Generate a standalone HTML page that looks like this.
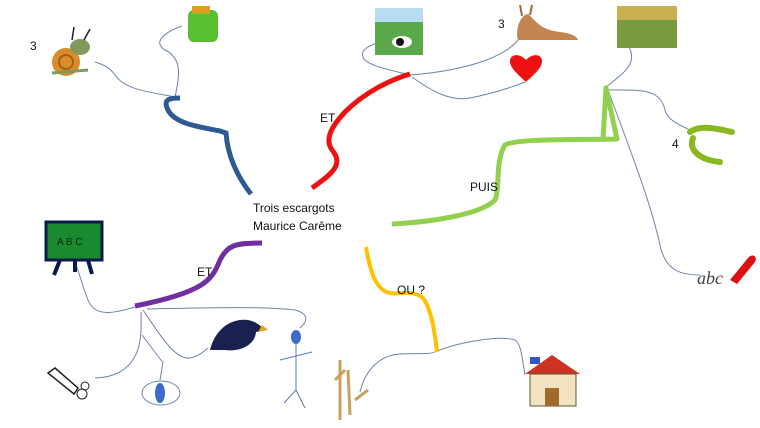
<!DOCTYPE html>
<html><head><meta charset="utf-8"><style>
html,body{margin:0;padding:0;background:#fff;}
svg{display:block;}
text{font-family:"Liberation Sans",sans-serif;font-size:12px;fill:#111;}
</style></head><body>
<svg width="760" height="428" viewBox="0 0 760 428" xmlns="http://www.w3.org/2000/svg">
<g fill="none" stroke="#6f84a8" stroke-width="1">
<!-- thin connectors top-left -->
<path d="M175 97 C150 92 125 90 115 75 C108 65 100 64 95 62"/>
<path d="M175 97 C180 75 182 58 165 50 C152 42 165 32 182 26"/>
<!-- around red top -->
<path d="M410 75 C390 70 365 65 363 57 C360 50 370 45 378 43"/>
<path d="M410 75 C450 72 500 62 518 40"/>
<path d="M412 77 C430 90 450 102 470 98 C490 94 510 88 525 82"/>
<!-- green top -->
<path d="M605 88 C620 75 640 65 628 45"/>
<path d="M608 90 C640 90 660 88 665 110 C667 120 680 125 690 130"/>
<path d="M608 90 C630 150 650 200 660 245 C665 270 680 275 700 275"/>
<!-- purple bottom -->
<path d="M135 307 C115 313 95 318 88 300 C82 285 80 275 75 262"/>
<path d="M147 309 C200 308 260 306 295 310 C310 314 307 322 300 328"/>
<path d="M143 310 C160 335 175 360 190 358 C200 356 205 350 208 348"/>
<path d="M141 312 C142 340 140 360 120 372 C110 377 100 378 95 378"/>
<path d="M142 335 C150 345 160 360 163 362 L160 380"/>
<!-- yellow bottom -->
<path d="M360 392 C365 370 380 355 400 354 C420 353 430 355 437 351 C460 342 500 335 515 340 C522 345 522 360 525 375"/>
</g>
<!-- main branches -->
<path d="M251 194 C240 180 228 160 226 133 L220 131 C200 127 175 124 168 110 C163 100 168 98 180 98" fill="none" stroke="#2e5a94" stroke-width="5" stroke-linecap="butt"/>
<path d="M312 188 C330 175 345 165 332 150 C325 140 330 128 345 112 C365 92 390 80 410 74" fill="none" stroke="#ee1111" stroke-width="5"/>
<path d="M392 224 C430 222 480 215 495 200 C500 190 495 160 505 145 C515 138 590 140 617 139 L606 88 L603 139" fill="none" stroke="#92d050" stroke-width="5" stroke-linejoin="round"/>
<path d="M262 243 C235 243 228 245 220 260 C212 280 205 292 135 306" fill="none" stroke="#7030a0" stroke-width="5"/>
<path d="M366 247 C370 270 375 290 390 293 C400 295 412 289 423 298 C432 310 435 335 437 352" fill="none" stroke="#ffc000" stroke-width="4"/>
<!-- labels -->
<text x="253" y="212">Trois escargots</text>
<text x="253" y="230">Maurice Carême</text>
<text x="320" y="122">ET</text>
<text x="470" y="191">PUIS</text>
<text x="197" y="276">ET</text>
<text x="397" y="294">OU ?</text>
<text x="30" y="50">3</text>
<text x="498" y="28">3</text>
<text x="672" y="148">4</text>
<!-- snail -->
<circle cx="66" cy="62" r="14" fill="#d98d2a"/><circle cx="66" cy="62" r="7" fill="none" stroke="#a85f10" stroke-width="2"/>
<ellipse cx="80" cy="47" rx="10" ry="8" fill="#7f9a5a"/><path d="M72 40 L74 27 M84 40 L90 29" stroke="#222" stroke-width="1.5"/>
<path d="M52 73 L88 70" stroke="#7f9a5a" stroke-width="3"/>
<!-- backpack -->
<rect x="188" y="10" width="30" height="32" rx="6" fill="#58c030"/><rect x="192" y="6" width="18" height="8" fill="#d8a020"/>
<!-- cow image -->
<rect x="375" y="8" width="48" height="47" fill="#5aa84a"/><rect x="375" y="8" width="48" height="14" fill="#b8dcf0"/>
<ellipse cx="402" cy="42" rx="10" ry="6" fill="#fff"/><ellipse cx="400" cy="42" rx="4" ry="4" fill="#111"/>
<!-- slug -->
<path d="M518 40 C515 30 520 15 528 14 C535 20 540 30 560 32 C570 33 577 36 578 40 Z" fill="#c28450"/>
<path d="M522 16 L520 5 M530 15 L532 5" stroke="#a06a3a" stroke-width="2"/>
<!-- heart -->
<path d="M526 82 C515 72 510 67 510 61 C510 55 518 52 526 60 C534 52 542 55 542 61 C542 67 537 72 526 82 Z" fill="#ee1111"/>
<!-- field -->
<rect x="617" y="6" width="60" height="42" fill="#c8b050"/><rect x="617" y="20" width="60" height="28" fill="#7a9a40"/>
<!-- lizard -->
<path d="M690 132 C700 125 715 128 732 132 M693 138 C688 150 700 160 720 162" stroke="#8ab820" stroke-width="6" fill="none" stroke-linecap="round"/>
<!-- abc + marker -->
<text x="697" y="284" style="font-family:'Liberation Serif',serif;font-size:18px;font-style:italic;fill:#444">abc</text>
<path d="M730 280 L748 258 C752 253 758 256 755 262 L737 284 Z" fill="#dd1111"/>
<!-- easel -->
<rect x="46" y="222" width="56" height="38" fill="#1a8a30" stroke="#0a1a4a" stroke-width="3"/>
<text x="57" y="245" style="font-size:10px;fill:#0a2a0a">A B C</text>
<path d="M60 260 L54 275 M75 260 L75 272 M88 260 L92 274" stroke="#0a1a4a" stroke-width="4"/>
<!-- pencil drawing -->
<path d="M48 373 L55 368 L78 388 L74 394 Z" fill="#fff" stroke="#222" stroke-width="1.5"/>
<circle cx="85" cy="386" r="4" fill="none" stroke="#222"/><circle cx="82" cy="394" r="5" fill="none" stroke="#222"/>
<!-- eye -->
<ellipse cx="161" cy="393" rx="19" ry="12" fill="none" stroke="#6f84a8"/><ellipse cx="160" cy="393" rx="5" ry="10" fill="#3a6cc8"/>
<!-- crow -->
<path d="M210 350 C215 330 230 318 248 320 C258 322 262 328 265 330 L256 332 C255 345 240 352 225 350 Z" fill="#1a2050"/>
<path d="M262 325 L268 330 L258 332 Z" fill="#e0a020"/>
<!-- stickman -->
<ellipse cx="296" cy="337" rx="5" ry="7" fill="#3a6cc8"/>
<path d="M296 344 L296 390 M280 360 L312 352 M296 390 L284 403 M296 390 L305 408" stroke="#5a7ab8" stroke-width="1"/>
<!-- oat -->
<path d="M340 420 L340 360 M350 415 L348 370 M335 380 L345 370 M355 400 L368 390" stroke="#c8a060" stroke-width="3"/>
<!-- school -->
<path d="M525 374 L552 355 L580 374 Z" fill="#cc3322"/>
<rect x="530" y="374" width="46" height="32" fill="#f2e2c0" stroke="#553" stroke-width="1"/>
<rect x="545" y="388" width="14" height="18" fill="#a06a2a"/>
<rect x="530" y="357" width="10" height="7" fill="#3355cc"/>
</svg>
</body></html>
